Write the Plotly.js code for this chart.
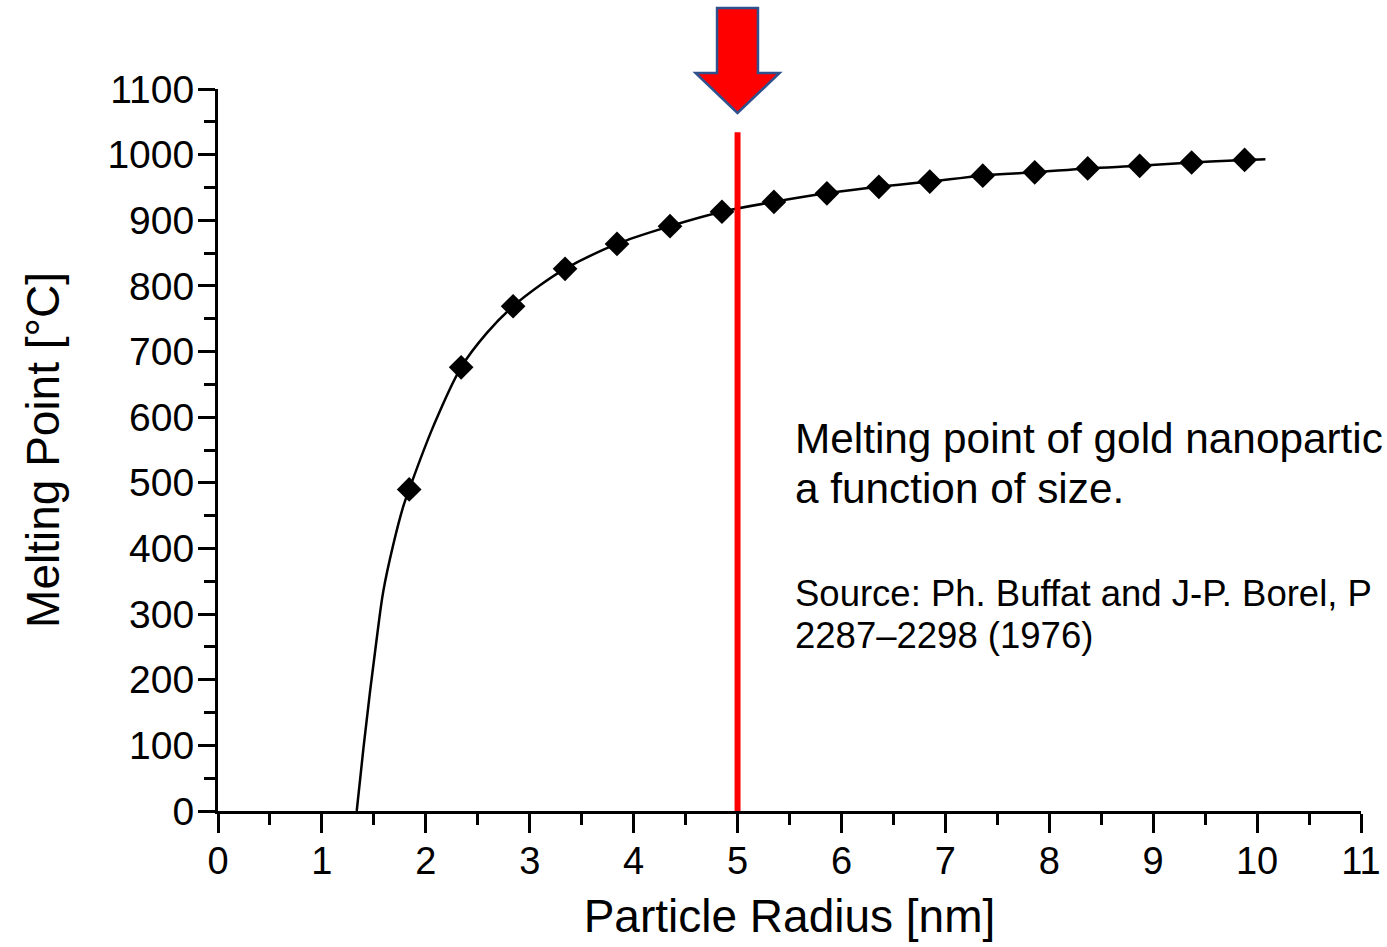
<!DOCTYPE html>
<html>
<head>
<meta charset="utf-8">
<script src="https://cdn.plot.ly/plotly-3.0.1.min.js"></script>
<style>
  html, body { margin: 0; padding: 0; overflow: hidden; background: #fff; }
  #chart { width: 1387px; height: 947px; }
</style>
</head>
<body>
<div id="chart"></div>
<script>
// Measured data points (diamonds)
const radius = [1.84, 2.34, 2.84, 3.34, 3.84, 4.35, 4.85, 5.35, 5.86, 6.36, 6.85, 7.36, 7.86, 8.37, 8.87, 9.37, 9.88];
const meltingPoint = [490, 676, 769, 826, 864, 891, 913, 928, 941, 951, 959, 968, 973, 979, 983, 988, 992];

// Fitted curve
const curveRadius = [1.335, 1.398, 1.463, 1.527, 1.591, 1.687, 1.783, 1.84, 2.072, 2.34, 2.586, 2.84, 3.099, 3.34, 3.84, 4.35, 4.85, 5.35, 5.86, 6.36, 6.85, 7.36, 7.86, 8.37, 8.87, 9.37, 9.88, 10.08];
const curveMelting = [0, 93, 182, 262, 335, 406, 464, 490, 586, 676, 728, 769, 801, 826, 864, 891, 913, 928, 941, 951, 959, 968, 973, 979, 983, 988, 992, 993];

// Axis ticks
const xTickVals = [0, 1, 2, 3, 4, 5, 6, 7, 8, 9, 10, 11];
const xTickText = ["0", "1", "2", "3", "4", "5", "6", "7", "8", "9", "10", "11"];
const yTickVals = [0, 100, 200, 300, 400, 500, 600, 700, 800, 900, 1000, 1100];
const yTickText = ["0", "100", "200", "300", "400", "500", "600", "700", "800", "900", "1000", "1100"];

// Highlighted radius
const markedRadius = 5;
const markedTop = 1034;

// Text (as visible in the figure, which is cut at its right edge)
const caption1 = "Melting point of gold nanopartic";
const caption2 = "a function of size.";
const source1 = "Source: Ph. Buffat and J-P. Borel, P";
const source2 = "2287–2298 (1976)";

const FONT = "Liberation Sans, Arial, Helvetica, sans-serif";

const traces = [
  {
    x: curveRadius, y: curveMelting,
    type: "scatter", mode: "lines",
    line: { color: "#000", width: 2.5, shape: "spline", smoothing: 1 },
    hoverinfo: "skip", showlegend: false
  },
  {
    x: radius, y: meltingPoint,
    type: "scatter", mode: "markers",
    marker: { symbol: "diamond", size: 19, color: "#000" },
    showlegend: false
  }
];

const layout = {
  width: 1387, height: 947,
  margin: { l: 218, r: 26, t: 89, b: 136 },
  paper_bgcolor: "#fff", plot_bgcolor: "#fff",
  font: { family: FONT, color: "#000", size: 38 },
  showlegend: false,
  xaxis: {
    range: [0, 11], fixedrange: true,
    tickmode: "array", tickvals: xTickVals, ticktext: xTickText,
    ticks: "outside", ticklen: 19, tickwidth: 3, tickcolor: "#000",
    showline: true, linewidth: 3, linecolor: "#000",
    showgrid: false, zeroline: false,
    tickfont: { family: FONT, size: 38, color: "#000" },
    ticklabelstandoff: -5,
    minor: { dtick: 0.5, ticks: "outside", ticklen: 11, tickwidth: 3, tickcolor: "#000", showgrid: false },
    title: { text: "Particle Radius [nm]", font: { family: FONT, size: 46, color: "#000" }, standoff: 20 }
  },
  yaxis: {
    range: [0, 1100], fixedrange: true,
    tickmode: "array", tickvals: yTickVals, ticktext: yTickText,
    ticks: "outside", ticklen: 17, tickwidth: 3, tickcolor: "#000",
    showline: true, linewidth: 3, linecolor: "#000",
    showgrid: false, zeroline: false,
    tickfont: { family: FONT, size: 39, color: "#000" },
    ticklabelstandoff: -4,
    minor: { dtick: 50, ticks: "outside", ticklen: 11, tickwidth: 3, tickcolor: "#000", showgrid: false },
    title: { text: "Melting Point [°C]", font: { family: FONT, size: 46, color: "#000" }, standoff: 34 }
  },
  shapes: [
    {
      type: "line", xref: "x", yref: "y",
      x0: markedRadius, x1: markedRadius, y0: 0, y1: markedTop,
      line: { color: "#ff0000", width: 6 }, layer: "above"
    },
    {
      type: "path", xref: "paper", yref: "paper",
      path: "M 0.4366 1.1122 L 0.4724 1.1122 L 0.4724 1.0222 L 0.4913 1.0222 L 0.4545 0.9668 L 0.4178 1.0222 L 0.4366 1.0222 Z",
      fillcolor: "#ff0000", line: { color: "#2F528F", width: 2.5 }, layer: "above"
    }
  ],
  annotations: [
    { xref: "x", yref: "y", x: 5.53, y: 567, xanchor: "left", yanchor: "middle", showarrow: false,
      text: caption1, font: { family: FONT, size: 42.3, color: "#000" } },
    { xref: "x", yref: "y", x: 5.53, y: 492, xanchor: "left", yanchor: "middle", showarrow: false,
      text: caption2, font: { family: FONT, size: 42.3, color: "#000" } },
    { xref: "x", yref: "y", x: 5.53, y: 331, xanchor: "left", yanchor: "middle", showarrow: false,
      text: source1, font: { family: FONT, size: 36.5, color: "#000" } },
    { xref: "x", yref: "y", x: 5.53, y: 267, xanchor: "left", yanchor: "middle", showarrow: false,
      text: source2, font: { family: FONT, size: 36.5, color: "#000" } }
  ]
};

Plotly.newPlot("chart", traces, layout, { displayModeBar: false, staticPlot: true });
</script>
</body>
</html>
